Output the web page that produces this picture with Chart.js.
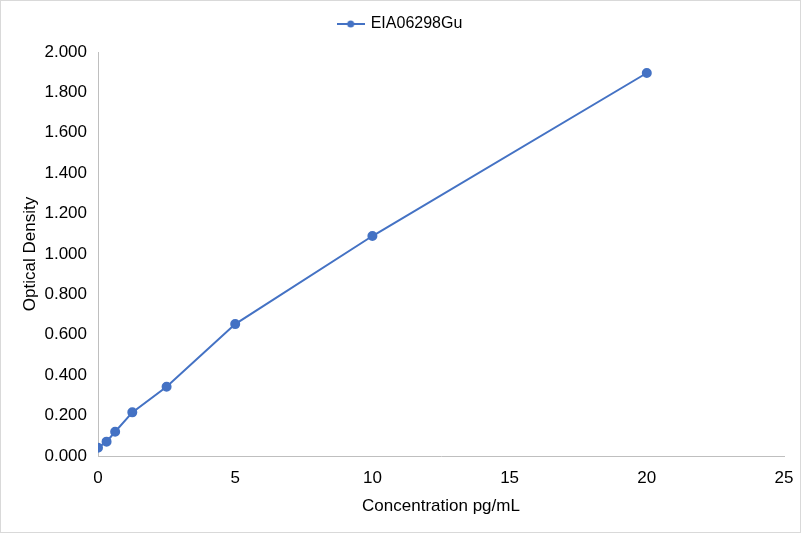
<!DOCTYPE html>
<html>
<head>
<meta charset="utf-8">
<script src="https://cdn.jsdelivr.net/npm/chart.js@4/dist/chart.umd.min.js"></script>
<style>
  html, body { margin: 0; padding: 0; background: #fff; }
  #wrap { position: relative; width: 801px; height: 533px; box-sizing: border-box; border: 1px solid #d9d9d9; }
</style>
</head>
<body>
<div id="wrap"><canvas id="curve"></canvas></div>
<script>
const seriesName = "EIA06298Gu";
const concentrations = [0, 0.3125, 0.625, 1.25, 2.5, 5, 10, 20];
const densities = [0.041, 0.071, 0.120, 0.216, 0.343, 0.653, 1.089, 1.896];
const xTicks = [0, 5, 10, 15, 20, 25];
const yTickStep = 0.2;

const BLUE = "#4472c4";
const FONT = "'Liberation Sans', Arial, sans-serif";
const LEGEND_EXTRA = 10;

// legend marker: short line with a dot in the middle
function legendMarker() {
  const c = document.createElement("canvas");
  c.width = 28; c.height = 10;
  const g = c.getContext("2d");
  g.strokeStyle = BLUE; g.lineWidth = 2;
  g.beginPath(); g.moveTo(0, 5); g.lineTo(28, 5); g.stroke();
  g.fillStyle = BLUE;
  g.beginPath(); g.arc(14, 5, 3.5, 0, Math.PI * 2); g.fill();
  return c;
}

// leave more room under the legend, like the original
const legendSpace = {
  id: "legendSpace",
  beforeInit(chart) {
    const fit = chart.legend.fit;
    chart.legend.fit = function () {
      fit.call(this);
      this.height += LEGEND_EXTRA;
    };
  }
};

Chart.defaults.font.family = FONT;
Chart.defaults.font.size = 17;
Chart.defaults.color = "#000";

new Chart(document.getElementById("curve"), {
  type: "line",
  data: {
    datasets: [{
      label: seriesName,
      data: concentrations.map((x, i) => ({ x, y: densities[i] })),
      borderColor: BLUE,
      backgroundColor: BLUE,
      borderWidth: 2,
      pointRadius: 4,
      pointHoverRadius: 4,
      tension: 0
    }]
  },
  plugins: [legendSpace],
  options: {
    responsive: true,
    maintainAspectRatio: false,
    animation: false,
    layout: { padding: { top: 7, right: 0, left: 0, bottom: 0 } },
    plugins: {
      tooltip: { enabled: false },
      legend: {
        position: "top",
        labels: {
          usePointStyle: true,
          boxWidth: 24,
          pointStyleWidth: 24,
          padding: 8,
          font: { size: 16, family: FONT },
          generateLabels: chart => [{
            text: seriesName,
            pointStyle: legendMarker(),
            fillStyle: BLUE,
            strokeStyle: BLUE,
            lineWidth: 0,
            datasetIndex: 0
          }]
        }
      }
    },
    scales: {
      x: {
        type: "linear",
        min: 0,
        max: 25,
        afterBuildTicks: s => { s.ticks = xTicks.map(v => ({ value: v })); },
        afterFit: s => { s.height = 76; s.paddingRight = 16; },
        grid: { display: false, drawTicks: false },
        border: { color: "#bfbfbf", width: 1 },
        ticks: { padding: 12 },
        title: { display: true, text: "Concentration pg/mL", padding: { top: 4, bottom: 15 } }
      },
      y: {
        min: 0,
        max: 2,
        afterFit: s => { s.width = 97; },
        grid: { display: false, drawTicks: false },
        border: { color: "#bfbfbf", width: 1 },
        ticks: { stepSize: yTickStep, padding: 11, callback: v => v.toFixed(3) },
        title: { display: true, text: "Optical Density", padding: { top: 19, bottom: 0 } }
      }
    }
  }
});
</script>
</body>
</html>
